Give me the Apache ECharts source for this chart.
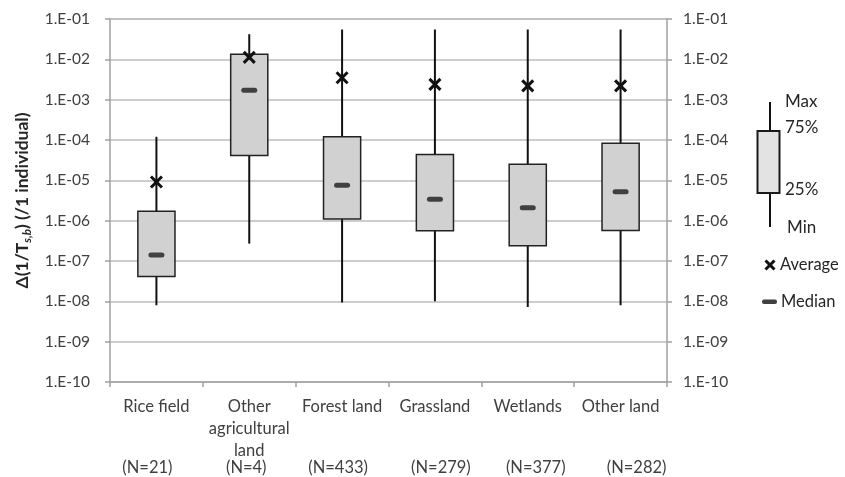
<!DOCTYPE html>
<html>
<head>
<meta charset="utf-8">
<script src="https://cdn.jsdelivr.net/npm/echarts@6/dist/echarts.min.js"></script>
<style>
  html, body { margin: 0; padding: 0; background: #fff; }
  #chart { width: 845px; height: 477px; }
</style>
</head>
<body>
<div id="chart"></div>
<script>
// Land-use categories and sample sizes
const categories = ['Rice field', 'Other\nagricultural\nland', 'Forest land', 'Grassland', 'Wetlands', 'Other land'];
const sampleSizes = ['(N=21)', '(N=4)', '(N=433)', '(N=279)', '(N=377)', '(N=282)'];

// Box statistics per category
const minValues     = [8.0e-9, 2.7e-7, 9.3e-9, 1.0e-8, 7.2e-9, 8.0e-9];
const q1Values      = [4.1e-8, 4.1e-5, 1.1e-6, 5.6e-7, 2.4e-7, 5.7e-7];
const medianValues  = [1.4e-7, 1.7e-3, 7.6e-6, 3.4e-6, 2.1e-6, 5.2e-6];
const q3Values      = [1.7e-6, 1.33e-2, 1.2e-4, 4.4e-5, 2.5e-5, 8.3e-5];
const maxValues     = [1.2e-4, 4.2e-2, 5.5e-2, 5.5e-2, 5.5e-2, 5.5e-2];
const averageValues = [9.1e-6, 1.12e-2, 3.5e-3, 2.4e-3, 2.2e-3, 2.2e-3];

// Log-axis tick labels, from 1e-10 up to 1e-1
const yTickLabels = ['1.E-10', '1.E-09', '1.E-08', '1.E-07', '1.E-06', '1.E-05', '1.E-04', '1.E-03', '1.E-02', '1.E-01'];

// Horizontal nudge of the sample-size labels (px)
const sampleLabelNudge = [-9, -3, -4, 6, 8, 16];

const FONT = 'Lato';
const TEXT = '#404040';
const AXIS = '#a0a0a0';

const boxData = categories.map((c, i) => [i, minValues[i], q1Values[i], medianValues[i], q3Values[i], maxValues[i], averageValues[i]]);

function tickLabel(v) {
  const e = Math.round(Math.log10(v));
  return yTickLabels[e + 10] || '';
}

function renderBox(params, api) {
  const i = api.value(0);
  const pMin = api.coord([i, api.value(1)]);
  const pQ1 = api.coord([i, api.value(2)]);
  const pMed = api.coord([i, api.value(3)]);
  const pQ3 = api.coord([i, api.value(4)]);
  const pMax = api.coord([i, api.value(5)]);
  const pAvg = api.coord([i, api.value(6)]);
  const band = api.coord([1, 1e-5])[0] - api.coord([0, 1e-5])[0];
  const w = band * 0.4;
  const x = pMed[0];
  const xs = 5.5;
  return {
    type: 'group',
    children: [
      { type: 'line', shape: { x1: x, y1: pMax[1], x2: x, y2: pMin[1] },
        style: { stroke: '#111', lineWidth: 2 } },
      { type: 'rect', shape: { x: x - w / 2, y: pQ3[1], width: w, height: pQ1[1] - pQ3[1] },
        style: { fill: '#d0d1d0', stroke: '#222', lineWidth: 1.5 } },
      { type: 'rect', shape: { x: x - 8, y: pMed[1] - 2.5, width: 16, height: 5, r: 2.5 },
        style: { fill: '#404040' } },
      { type: 'line', shape: { x1: x - xs, y1: pAvg[1] - xs, x2: x + xs, y2: pAvg[1] + xs },
        style: { stroke: '#111', lineWidth: 3 } },
      { type: 'line', shape: { x1: x - xs, y1: pAvg[1] + xs, x2: x + xs, y2: pAvg[1] - xs },
        style: { stroke: '#111', lineWidth: 3 } }
    ]
  };
}

const yAxisBase = {
  type: 'log',
  logBase: 10,
  min: 1e-10,
  max: 1e-1,
  splitNumber: 9,
  axisLine: { show: true, lineStyle: { color: AXIS, width: 1.5 } },
  axisTick: { show: true, length: 5, lineStyle: { color: AXIS, width: 1.5 } },
  minorTick: { show: false },
  axisLabel: { formatter: tickLabel, color: TEXT, fontFamily: FONT, fontSize: 15.5 }
};

const legendText = (x, y, text, size) => ({
  type: 'text', x: x, y: y,
  style: { text: text, fill: '#262626', font: size + 'px ' + FONT, textVerticalAlign: 'middle' }
});

const option = {
  animation: false,
  backgroundColor: '#fff',
  grid: { left: 110, right: 178, top: 19, bottom: 95 },
  xAxis: [
    {
      type: 'category',
      data: categories,
      boundaryGap: true,
      axisLine: { lineStyle: { color: AXIS, width: 1.5 } },
      axisTick: { show: true, length: 5, interval: 0, lineStyle: { color: AXIS, width: 1.5 } },
      axisLabel: { interval: 0, color: TEXT, fontFamily: FONT, fontSize: 16.5, lineHeight: 22, margin: 14 },
      splitLine: { show: false }
    },
    {
      type: 'category',
      position: 'bottom',
      data: sampleSizes.map((s, i) => {
        const d = sampleLabelNudge[i];
        return { value: s, textStyle: { padding: d >= 0 ? [0, 0, 0, 2 * d] : [0, -2 * d, 0, 0] } };
      }),
      axisLine: { show: false },
      axisTick: { show: false },
      axisLabel: { interval: 0, color: TEXT, fontFamily: FONT, fontSize: 16.5, lineHeight: 18, margin: 77 },
      splitLine: { show: false }
    }
  ],
  yAxis: [
    Object.assign({}, yAxisBase, {
      position: 'left',
      splitLine: { show: true, lineStyle: { color: '#bdbdbd', width: 1.5 } },
      axisLabel: Object.assign({}, yAxisBase.axisLabel, { margin: 20 }),
      name: '{a|Δ(1/T}{s|s,b}{a|) (/1 individual)}',
      nameLocation: 'middle',
      nameGap: 76,
      nameTextStyle: {
        rich: {
          a: { fontFamily: FONT, fontSize: 17.5, fontWeight: 'bold', color: '#262626', lineHeight: 22 },
          s: { fontFamily: FONT, fontSize: 11.5, fontWeight: 'bold', fontStyle: 'italic', color: '#262626', lineHeight: 14, verticalAlign: 'bottom' }
        }
      }
    }),
    Object.assign({}, yAxisBase, {
      position: 'right',
      splitLine: { show: false },
      axisLabel: Object.assign({}, yAxisBase.axisLabel, { margin: 16 })
    })
  ],
  series: [
    {
      type: 'custom',
      xAxisIndex: 0,
      yAxisIndex: 0,
      renderItem: renderBox,
      encode: { x: 0, y: [1, 2, 3, 4, 5, 6] },
      data: boxData,
      z: 5
    }
  ],
  graphic: [
    { type: 'line', shape: { x1: 770, y1: 102, x2: 770, y2: 227 }, style: { stroke: '#111', lineWidth: 2 } },
    { type: 'rect', shape: { x: 757.5, y: 131, width: 22, height: 62 }, style: { fill: '#e3e3e3', stroke: '#1a1a1a', lineWidth: 2 } },
    legendText(785, 102, 'Max', 17),
    legendText(785, 128, '75%', 17),
    legendText(785, 190, '25%', 17),
    legendText(787, 228, 'Min', 17),
    { type: 'line', shape: { x1: 765.5, y1: 260.5, x2: 774.5, y2: 269.5 }, style: { stroke: '#111', lineWidth: 3 } },
    { type: 'line', shape: { x1: 765.5, y1: 269.5, x2: 774.5, y2: 260.5 }, style: { stroke: '#111', lineWidth: 3 } },
    legendText(780, 265, 'Average', 16.5),
    { type: 'rect', shape: { x: 762, y: 299.5, width: 15, height: 4.5, r: 2 }, style: { fill: '#404040' } },
    legendText(781, 302, 'Median', 16.5)
  ]
};

const chart = echarts.init(document.getElementById('chart'), null, { renderer: 'canvas' });
chart.setOption(option);
</script>
</body>
</html>
